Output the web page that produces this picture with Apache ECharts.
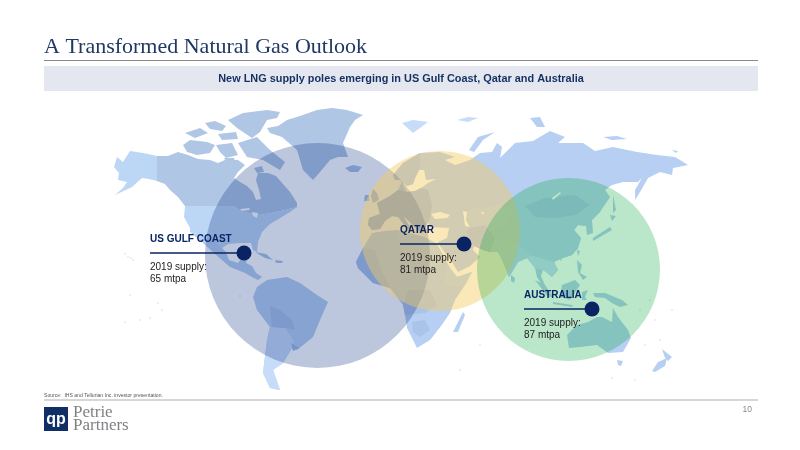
<!DOCTYPE html>
<html>
<head>
<meta charset="utf-8">
<style>html,body{margin:0;padding:0;background:#fff}#main{width:800px;height:450px}</style>
<script src="https://cdn.jsdelivr.net/npm/echarts@6/dist/echarts.min.js"></script>
</head>
<body>
<div id="main"></div>
<script>
// hubs
var hubNames = ['US GULF COAST', 'QATAR', 'AUSTRALIA'];
var hubSupply = [65, 81, 87];
var hubX = [244, 464, 592];
var hubY = [253, 244, 309];
var coverX = [317.5, 440, 568.5];
var coverY = [255.5, 231, 269.5];
var coverRadius = [112.5, 80, 91.5];
var leaderStartX = [150, 400, 524];

// land outlines in slide units
var alaska = [[117,157],[123,162],[130,151],[143,153],[157,156],[157,181],[149,179],[142,178],[132,187],[115,195],[123,188],[127,182],[118,180],[119,173],[114,167]];
var canada = [[157,156],[168,156],[178,152],[188,155],[198,159],[210,160],[218,163],[225,160],[238,160],[245,165],[238,172],[234,178],[240,182],[247,186],[253,192],[256,200],[261,199],[259,190],[256,180],[258,173],[268,173],[276,176],[283,184],[290,192],[297,203],[297,207],[285,210],[272,213],[258,215],[243,212],[233,206],[185,206],[178,197],[170,190],[165,184],[157,181]];
var usa = [[185,206],[233,206],[243,212],[258,215],[272,213],[285,210],[297,207],[290,212],[280,218],[270,224],[262,232],[258,242],[257,252],[253,250],[251,243],[240,243],[228,244],[222,248],[215,240],[205,236],[190,232],[190,228],[184,217]];
var mexico = [[190,232],[205,236],[215,240],[222,248],[226,252],[229,260],[238,263],[242,258],[248,256],[246,263],[252,266],[256,273],[262,277],[258,280],[252,277],[245,273],[230,267],[215,254],[203,243],[197,238]];
var cuba = [[255,252],[266,254],[273,260],[265,258]];
var hispaniola = [[275,260],[283,261],[282,263],[276,263]];
var victoria = [[183,145],[190,140],[207,142],[215,145],[210,153],[197,155],[187,152]];
var baffin = [[238,143],[257,137],[270,150],[285,162],[280,170],[263,160],[247,157]];
var ellesmere = [[228,120],[243,113],[267,110],[280,112],[277,118],[267,120],[260,132],[252,138],[237,128]];
var banks = [[185,133],[200,128],[208,133],[195,138]];
var melville = [[205,123],[215,121],[226,126],[222,131],[210,129]];
var devon = [[218,134],[236,132],[238,139],[222,140]];
var somerset = [[216,145],[232,143],[238,155],[226,158],[220,152]];
var prince = [[224,158],[234,158],[236,164],[228,165]];
var southampton = [[254,168],[262,166],[264,172],[257,173]];
var greenland = [[267,128],[278,126],[287,120],[300,116],[317,110],[332,108],[347,110],[363,115],[355,120],[350,127],[343,143],[348,157],[338,157],[330,160],[320,172],[313,180],[303,170],[297,150],[282,137],[270,133]];
var iceland = [[345,168],[353,165],[362,167],[358,172],[350,172]];
var britain = [[373,189],[377,193],[379,200],[373,203],[371,196]];
var ireland = [[365,195],[369,195],[369,201],[364,201]];
var southAmerica = [[253,297],[257,287],[267,280],[287,277],[300,283],[317,295],[328,302],[320,320],[313,337],[297,350],[292,348],[283,363],[273,370],[280,390],[270,388],[263,373],[267,340],[270,327],[257,310]];
var argentina = [[272,327],[285,328],[294,341],[292,348],[283,363],[273,370],[280,390],[270,388],[263,373],[267,340],[270,327]];
var bolivia = [[270,306],[280,310],[292,320],[295,330],[285,328],[272,327]];
var uruguay = [[291,343],[299,348],[293,351]];
var eurasia = [[369,218],[380,214],[377,203],[390,196],[398,190],[400,186],[402,181],[404,187],[407,192],[415,191],[421,188],[428,183],[436,179],[426,180],[424,170],[419,170],[415,178],[413,184],[407,186],[400,180],[395,180],[393,175],[403,163],[420,153],[440,152],[455,157],[445,160],[455,165],[470,160],[480,153],[492,152],[497,143],[502,147],[500,158],[508,150],[515,143],[533,141],[550,131],[565,137],[558,143],[583,143],[595,151],[613,147],[637,152],[657,155],[675,157],[688,165],[673,168],[672,175],[660,172],[648,178],[640,192],[635,200],[635,190],[642,178],[638,182],[623,182],[612,185],[605,190],[610,197],[600,212],[592,220],[593,233],[587,235],[586,226],[578,225],[574,230],[581,238],[578,248],[572,255],[560,259],[554,262],[558,270],[552,277],[546,272],[543,270],[541,276],[547,290],[544,288],[537,277],[535,268],[527,258],[518,262],[509,277],[503,262],[498,252],[490,252],[483,250],[474,246],[473,250],[478,255],[480,257],[470,266],[458,272],[452,262],[440,246],[438,242],[447,238],[449,228],[430,227],[428,222],[424,231],[420,232],[410,222],[403,216],[408,224],[412,231],[408,229],[398,217],[392,216],[385,221],[380,229],[372,230],[368,225]];
var westEurope = [[369,218],[380,214],[377,203],[390,196],[398,190],[407,192],[415,191],[421,188],[428,190],[432,205],[430,218],[428,222],[424,231],[420,232],[410,222],[403,216],[408,224],[412,231],[408,229],[398,217],[392,216],[385,221],[380,229],[372,230],[368,225]];
var scandinavia = [[407,186],[400,180],[395,180],[393,175],[403,163],[420,153],[420,165],[419,170],[415,178],[413,184]];
var centralAsia = [[462,212],[480,208],[500,205],[512,212],[505,225],[490,232],[475,230]];
var china = [[512,232],[525,222],[545,228],[565,225],[578,212],[592,210],[600,212],[592,220],[586,226],[578,225],[574,230],[581,238],[578,248],[572,255],[560,259],[554,262],[540,255],[525,248]];
var mongolia = [[525,206],[545,198],[575,195],[590,205],[575,215],[555,218],[535,217]];
var india = [[490,252],[498,252],[503,262],[509,277],[518,262],[527,258],[530,252],[510,240],[495,238]];
var iran = [[466,232],[474,246],[483,250],[490,252],[495,238],[485,225],[470,228]];
var indochina = [[535,268],[543,270],[546,272],[552,277],[558,270],[554,262],[540,258],[530,255],[527,258]];
var africa = [[372,233],[385,231],[397,230],[410,234],[424,237],[437,244],[450,268],[457,277],[472,272],[465,285],[455,300],[450,313],[441,326],[430,340],[417,348],[407,328],[405,315],[403,305],[390,288],[373,283],[358,268],[356,262],[363,248]];
var saharaEast = [[397,230],[424,237],[437,244],[446,262],[430,268],[405,265]];
var westAfrica = [[356,262],[363,248],[375,250],[382,272],[390,288],[373,283],[358,268]];
var botswana = [[412,322],[425,320],[430,330],[420,337],[413,332]];
var congo = [[403,305],[408,290],[430,290],[437,305],[425,313],[405,315]];
var horn = [[446,262],[450,268],[457,277],[472,272],[465,285],[457,286],[445,285]];
var madagascar = [[453,332],[463,312],[465,315],[458,332]];
var australia = [[567,335],[569,348],[580,347],[597,345],[608,353],[623,352],[631,338],[628,330],[618,317],[613,308],[612,322],[602,317],[597,317],[588,322],[577,325]];
var tasmania = [[617,360],[623,361],[621,366],[618,365]];
var nzNorth = [[662,349],[672,357],[668,361],[665,358]];
var nzSouth = [[652,371],[658,362],[667,358],[665,366],[655,372]];
var newGuinea = [[593,293],[605,293],[622,300],[628,305],[620,307],[612,303],[605,298],[595,297]];
var borneo = [[562,285],[575,280],[580,285],[570,300],[560,297]];
var sumatra = [[535,280],[545,285],[553,297],[548,297]];
var java = [[553,302],[572,305],[573,307],[553,304]];
var sulawesi = [[582,292],[588,290],[585,297],[587,300],[582,300]];
var philippines = [[577,260],[582,265],[580,273],[587,277],[583,280],[578,272]];
var sriLanka = [[511,275],[515,278],[514,283],[511,281]];
var taiwan = [[577,250],[580,251],[578,256]];
var hainan = [[558,258],[562,258],[561,261]];
var honshu = [[593,238],[610,227],[612,230],[600,237],[593,241]];
var hokkaido = [[610,215],[616,216],[612,221]];
var sakhalin = [[613,195],[616,210],[613,213]];
var svalbard = [[402,123],[413,120],[428,122],[420,128],[413,133]];
var franzJosef = [[457,120],[468,117],[478,118],[468,122]];
var novayaZemlya = [[469,150],[478,137],[495,132],[483,140],[474,152]];
var severnaya = [[530,118],[540,117],[545,127],[537,127]];
var newSiberian = [[603,137],[617,136],[627,139],[612,140]];
var wrangel = [[672,150],[678,151],[676,153]];

// inland water
var blackSea = [[431,214],[440,212],[450,215],[447,218],[435,219]];
var caspian = [[463,211],[467,212],[466,220],[470,227],[465,226],[464,218]];
var aral = [[481,212],[484,212],[483,215]];
var baikal = [[552,198],[560,192],[561,193],[553,200]];
var lakeSuperior = [[240,209],[250,208],[249,210],[242,211]];
var lakeHuron = [[252,212],[258,213],[257,218],[253,216]];

// far flung islands
var islandX = [125, 128, 131, 133, 130, 158, 162, 125, 140, 150, 655, 650, 660, 640, 672, 645, 635, 612, 460, 480, 240];
var islandY = [254, 257, 258, 260, 295, 303, 310, 322, 320, 318, 320, 300, 340, 310, 310, 345, 380, 378, 370, 345, 296];

var tonePale = '#c6dcf8', toneLand = '#b7cff2', toneUsa = '#bcd6f6', toneCool = '#b0c6e5',
    toneSoft = '#bcd3f3', toneDark = '#aac3e9', toneDeep = '#a0b9e1';

var landShapes = [
  [alaska, toneUsa], [canada, toneCool], [usa, toneUsa], [mexico, toneLand], [cuba, toneCool], [hispaniola, toneCool],
  [victoria, toneCool], [baffin, toneCool], [ellesmere, toneCool], [banks, toneCool], [melville, toneCool], [devon, toneCool], [somerset, toneCool], [prince, toneCool], [southampton, toneCool],
  [greenland, toneCool], [iceland, toneDark], [britain, toneDark], [ireland, toneDark],
  [southAmerica, toneLand], [argentina, tonePale], [bolivia, toneDark], [uruguay, toneDeep],
  [eurasia, toneLand], [westEurope, toneDeep], [scandinavia, toneDark], [centralAsia, toneSoft], [china, toneLand], [mongolia, toneDark], [india, toneSoft], [iran, toneDark], [indochina, tonePale],
  [africa, toneLand], [saharaEast, toneSoft], [westAfrica, toneDark], [botswana, toneDark], [congo, toneDark], [horn, toneSoft], [madagascar, toneLand],
  [australia, toneLand], [tasmania, toneLand], [nzNorth, toneLand], [nzSouth, toneLand], [newGuinea, toneLand], [borneo, toneLand], [sumatra, toneLand], [java, toneLand], [sulawesi, toneLand],
  [philippines, toneLand], [sriLanka, toneLand], [taiwan, toneLand], [hainan, toneLand], [honshu, toneLand], [hokkaido, toneLand], [sakhalin, toneLand],
  [svalbard, tonePale], [franzJosef, tonePale], [novayaZemlya, toneLand], [severnaya, toneLand], [newSiberian, toneLand], [wrangel, toneLand],
  [blackSea, '#ffffff'], [caspian, '#ffffff'], [aral, '#ffffff'], [baikal, '#ffffff'], [lakeSuperior, '#ffffff'], [lakeHuron, '#ffffff']
];

var navy = '#0a2463';
var ink = '#1f3864';

var myChart = echarts.init(document.getElementById('main'), null, {renderer: 'canvas'});

var coverColors = ['rgba(7,44,126,0.27)', 'rgba(245,202,95,0.44)', 'rgba(0,164,56,0.27)'];

var option = {
  animation: false,
  backgroundColor: '#fff',
  grid: {left: 0, right: 0, top: 0, bottom: 0},
  xAxis: {type: 'value', min: 0, max: 800, show: false},
  yAxis: {type: 'value', min: 0, max: 450, inverse: true, show: false},
  series: [
    {
      type: 'custom',
      silent: true,
      z: 1,
      clip: false,
      data: landShapes.map(function (s, i) { return [i]; }),
      encode: {x: 0},
      renderItem: function (params, api) {
        var shape = landShapes[params.dataIndex];
        return {
          type: 'polygon',
          shape: {points: shape[0].map(function (p) { return api.coord(p); })},
          style: {fill: shape[1]}
        };
      }
    },
    {
      type: 'scatter',
      silent: true,
      z: 1,
      symbolSize: 1.6,
      itemStyle: {color: '#c4d3ec'},
      data: islandX.map(function (x, i) { return [x, islandY[i]]; })
    },
    {
      type: 'custom',
      silent: true,
      z: 2,
      clip: false,
      data: hubNames.map(function (n, i) { return [coverX[i], coverY[i]]; }),
      renderItem: function (params, api) {
        var c = api.coord([api.value(0), api.value(1)]);
        return {
          type: 'circle',
          shape: {cx: c[0], cy: c[1], r: coverRadius[params.dataIndex]},
          style: {fill: coverColors[params.dataIndex]}
        };
      }
    },
    {
      type: 'custom',
      silent: true,
      z: 3,
      clip: false,
      data: hubNames.map(function (n, i) { return [hubX[i], hubY[i]]; }),
      renderItem: function (params, api) {
        var i = params.dataIndex;
        var c = api.coord([api.value(0), api.value(1)]);
        var start = api.coord([leaderStartX[i], hubY[i]]);
        var font = '10px "Liberation Sans"';
        return {
          type: 'group',
          children: [
            {type: 'line', shape: {x1: start[0], y1: c[1], x2: c[0], y2: c[1]}, style: {stroke: navy, lineWidth: 1.3}},
            {type: 'circle', shape: {cx: c[0], cy: c[1], r: 7.5}, style: {fill: navy}},
            {type: 'text', x: start[0], y: c[1] - 14, style: {text: hubNames[i], font: 'bold ' + font, fill: navy, verticalAlign: 'middle'}},
            {type: 'text', x: start[0], y: c[1] + 14, style: {text: '2019 supply:', font: font, fill: '#222', verticalAlign: 'middle'}},
            {type: 'text', x: start[0], y: c[1] + 26, style: {text: hubSupply[i] + ' mtpa', font: font, fill: '#222', verticalAlign: 'middle'}}
          ]
        };
      }
    }
  ],
  graphic: [
    {type: 'text', left: 44, top: 36, style: {text: 'A Transformed Natural Gas Outlook', font: '22px "Liberation Serif"', fill: ink}},
    {type: 'rect', shape: {x: 44, y: 60, width: 714, height: 1}, style: {fill: '#8a8a8a'}},
    {type: 'rect', shape: {x: 44, y: 66, width: 714, height: 25}, style: {fill: '#e4e7f0'}},
    {type: 'text', x: 401, y: 78.5, style: {text: 'New LNG supply poles emerging in US Gulf Coast, Qatar and Australia', font: 'bold 10.9px "Liberation Sans"', fill: '#14315f', textAlign: 'center', textVerticalAlign: 'middle'}},
    {type: 'text', x: 44, y: 396, style: {text: 'Source:  IHS and Tellurian Inc. investor presentation.', font: '5.1px "Liberation Sans"', fill: '#555', textVerticalAlign: 'middle'}},
    {type: 'rect', shape: {x: 44, y: 399.5, width: 714, height: 1}, style: {fill: '#b0b0b0'}},
    {type: 'text', x: 752, y: 410, style: {text: '10', font: '8.5px "Liberation Sans"', fill: '#8a8a8a', textAlign: 'right', textVerticalAlign: 'middle'}},
    {type: 'rect', shape: {x: 44, y: 407, width: 24, height: 24}, style: {fill: '#0f2f66'}},
    {type: 'text', x: 56, y: 419.5, style: {text: 'qp', font: 'bold 16px "Liberation Sans"', fill: '#fff', textAlign: 'center', textVerticalAlign: 'middle'}},
    {type: 'text', x: 73, y: 413, style: {text: 'Petrie', font: '17px "Liberation Serif"', fill: '#7f8285', textVerticalAlign: 'middle'}},
    {type: 'text', x: 73, y: 426, style: {text: 'Partners', font: '17px "Liberation Serif"', fill: '#7f8285', textVerticalAlign: 'middle'}}
  ]
};

myChart.setOption(option);
</script>
</body>
</html>
